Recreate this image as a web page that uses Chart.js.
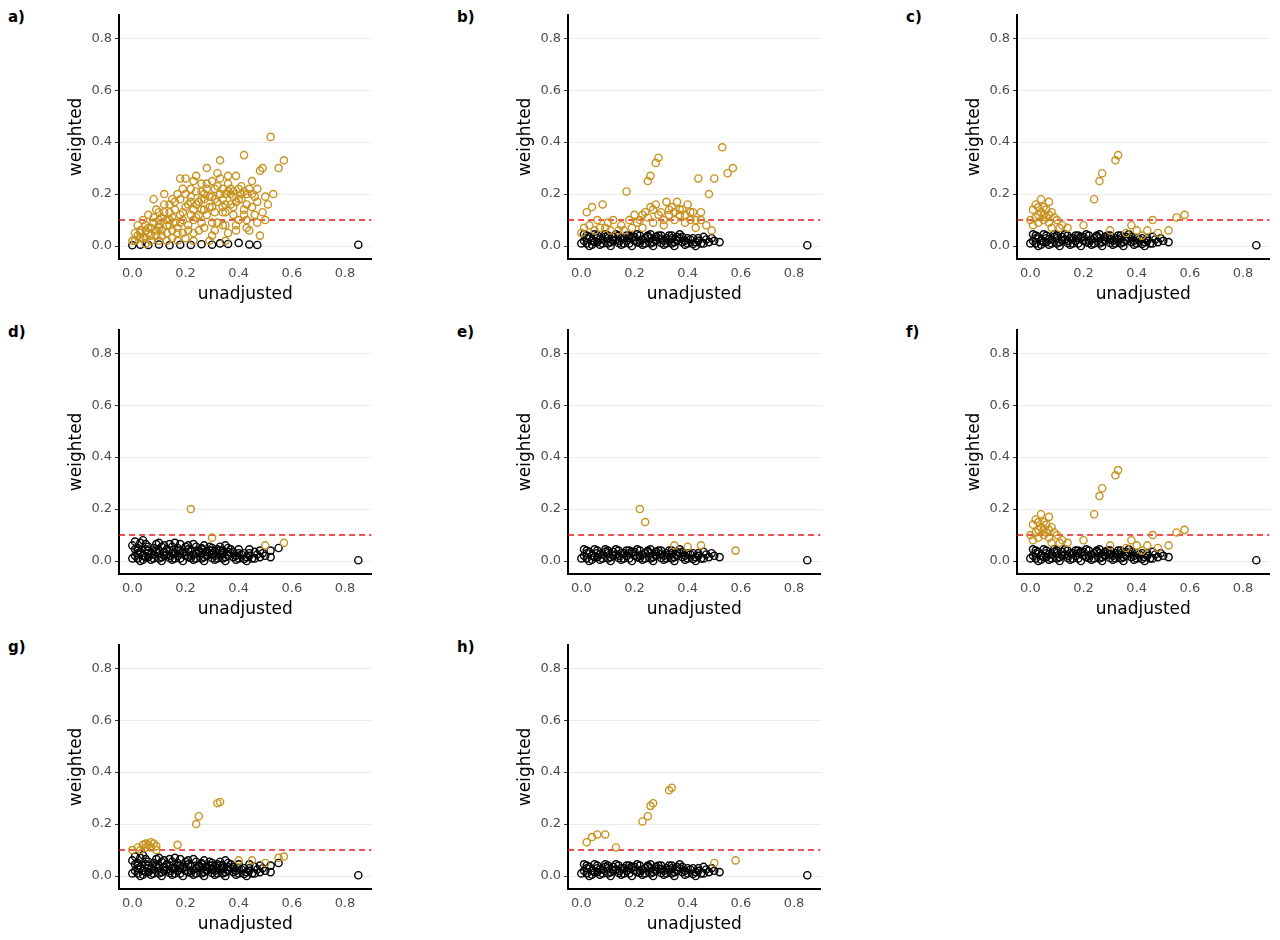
<!DOCTYPE html>
<html><head><meta charset="utf-8">
<script src="https://cdn.jsdelivr.net/npm/chart.js@4"></script>
<style>
body{margin:0;background:#fff;font-family:"DejaVu Sans",sans-serif;}
.panel{position:absolute;width:315px;height:305px;}
.lab{position:absolute;font-weight:bold;font-size:15px;color:#000;}
</style></head><body>
<script>
// panel labels and tick values
const panelNames = ['a)','b)','c)','d)','e)','f)','g)','h)'];
const tickVals = [0, 0.2, 0.4, 0.6, 0.8];
const threshold = 0.1;

// flat [x,y, x,y, ...] lists
const orangeA = [0,.02,.01,.05,.02,.08,.03,.03,.04,.1,.05,.06,.06,.12,.07,.04,.08,.09,.09,.14,.1,.07,.11,.11,.12,.16,.13,.05,.14,.13,.15,.18,.16,.09,.17,.2,.18,.12,.19,.22,.2,.15,.21,.08,.22,.19,.23,.25,.24,.11,.25,.17,.26,.21,.27,.14,.28,.24,.29,.19,.3,.09,.31,.22,.32,.17,.33,.26,.34,.13,.35,.2,.36,.24,.37,.16,.38,.21,.39,.27,.4,.18,.41,.23,.42,.14,.43,.2,.45,.25,.47,.22,.48,.29,.5,.19,.52,.42,.55,.3,.57,.33,.42,.35,.33,.33,.49,.3,.45,.15,.4,.1,.36,.05,.3,.04,.2,.03,.25,.06,.15,.03,.1,.02,.05,.01,.12,.2,.08,.18,.18,.26,.28,.3,.44,.06,.48,.04,.46,.12,.02,.04,.06,.07,.1,.1,.14,.08,.19,.1,.23,.14,.27,.18,.31,.13,.35,.16,.38,.12,.41,.18,.22,.22,.26,.24,.3,.25,.34,.22,.37,.2,.16,.14,.13,.1,.09,.06,.05,.08,.03,.06,.24,.16,.28,.12,.32,.09,.04,.03,.07,.02,.11,.04,.17,.05,.21,.06,.26,.09,.34,.08,.39,.06,.43,.1,.5,.1,.53,.2];
const orangeAFill = [.01,.02,.03,.05,.05,.03,.07,.07,.09,.04,.11,.06,.13,.08,.15,.11,.17,.07,.19,.13,.21,.16,.23,.1,.25,.12,.27,.2,.29,.15,.31,.18,.33,.2,.35,.13,.37,.22,.39,.17,.41,.2,.43,.16,.45,.2,.47,.17,.2,.2,.24,.21,.28,.22,.32,.23,.36,.21,.4,.22,.44,.22,.16,.17,.12,.13,.08,.11,.1,.13,.14,.16,.18,.18,.22,.17,.26,.18,.3,.19,.34,.18,.38,.19,.42,.21,.46,.19,.15,.06,.19,.05,.23,.05,.27,.07,.31,.06,.35,.08,.39,.08,.43,.07,.47,.09,.49,.13,.51,.16,.22,.12,.26,.14,.3,.15,.34,.15,.38,.15,.42,.12,.18,.09,.14,.1,.1,.08,.06,.05,.2,.26,.36,.27,.32,.28,.24,.27,.13,.02,.17,.02,.23,.02,.29,.02,.35,.02];
const blackA = [0,.003,.03,.005,.06,.004,.1,.006,.14,.003,.18,.005,.22,.004,.26,.007,.3,.005,.33,.01,.36,.008,.4,.012,.44,.006,.47,.004,.85,.005];

const orangeB = [0,.05,.02,.13,.04,.15,.08,.16,.17,.21,.03,.08,.06,.1,.1,.09,.12,.1,.15,.08,.18,.1,.2,.12,.22,.1,.24,.13,.25,.25,.26,.27,.26,.15,.28,.32,.29,.34,.28,.16,.3,.13,.32,.17,.34,.15,.36,.17,.38,.14,.4,.16,.42,.13,.44,.26,.45,.1,.48,.2,.5,.26,.53,.38,.55,.28,.57,.3,.47,.08,.35,.1,.31,.08,.23,.07,.14,.06,.07,.07,.01,.07,.05,.06,.19,.07,.27,.09,.33,.12,.39,.09,.43,.07,.49,.06,.41,.1,.37,.12,.21,.09,.25,.11,.29,.12,.33,.14,.37,.14,.41,.13,.45,.13,.27,.14,.31,.1,.35,.13,.39,.12,.43,.1,.23,.12,.16,.06,.11,.06,.09,.07];
const blackLow = [0,.01,.02,.03,.04,.02,.06,.04,.08,.01,.1,.03,.12,.02,.14,.04,.16,.01,.18,.03,.2,.02,.22,.04,.24,.01,.26,.03,.28,.02,.3,.04,.32,.01,.34,.03,.36,.02,.38,.035,.4,.01,.42,.03,.44,.02,.46,.035,.48,.015,.5,.02,.03,.0,.07,.005,.11,.0,.15,.005,.19,.0,.23,.005,.27,.0,.31,.005,.35,.0,.39,.005,.43,.0,.01,.045,.05,.045,.09,.045,.13,.045,.17,.04,.21,.045,.25,.04,.29,.04,.33,.04,.37,.045,.85,.003];
const blackFill = [.01,.02,.03,.035,.05,.015,.07,.025,.09,.035,.11,.015,.13,.025,.15,.03,.17,.02,.19,.035,.21,.015,.23,.025,.25,.035,.27,.015,.29,.03,.31,.02,.33,.025,.35,.015,.37,.03,.39,.02,.41,.025,.43,.015,.45,.01,.47,.025,.49,.03,.52,.015,.02,.01,.04,.005,.06,.015,.08,.025,.1,.01,.12,.035,.14,.012,.16,.03,.18,.01,.2,.035,.22,.012,.24,.03,.26,.01,.28,.035,.3,.012,.32,.03,.34,.01,.36,.035,.38,.015,.4,.03,.42,.008,.44,.03,.46,.01,.02,.04,.06,.03,.1,.04,.14,.02,.18,.04,.22,.02,.26,.045,.3,.025,.34,.04];
const blackHighExtra = [0,.06,.03,.07,.06,.055,.09,.065,.12,.06,.15,.055,.18,.065,.21,.06,.24,.055,.27,.06,.3,.05,.33,.055,.36,.05,.4,.045,.44,.045,.48,.04,.52,.04,.55,.05,.02,.05,.05,.065,.08,.05,.11,.055,.14,.065,.17,.05,.2,.055,.23,.065,.26,.05,.29,.055,.32,.045,.35,.06,.01,.075,.04,.08,.1,.07,.16,.07];

const orangeC = [0,.1,.01,.14,.02,.16,.03,.12,.04,.18,.05,.15,.06,.11,.07,.17,.08,.13,.1,.1,.12,.08,.14,.07,.2,.08,.24,.18,.26,.25,.27,.28,.32,.33,.33,.35,.4,.06,.46,.1,.55,.11,.58,.12,.3,.06,.36,.05,.01,.08,.02,.11,.03,.09,.04,.13,.05,.1,.06,.14,.07,.09,.08,.07,.09,.11,.11,.07,.03,.15,.05,.12,.07,.12,.44,.06,.48,.05,.52,.06,.38,.08,.42,.04];
const orangeD = [.22,.2,.3,.09,.57,.07,.5,.06];
const orangeE = [.22,.2,.24,.15,.35,.06,.45,.06,.4,.055,.58,.04];
const orangeG = [0,.1,.02,.11,.04,.12,.05,.125,.06,.12,.07,.13,.08,.125,.09,.115,.17,.12,.24,.2,.25,.23,.32,.28,.33,.285,.55,.07,.57,.075,.45,.06,.03,.1,.05,.11,.07,.11,.09,.1,.4,.06,.5,.05];
const orangeH = [.02,.13,.04,.15,.06,.16,.09,.16,.13,.11,.23,.21,.25,.23,.26,.27,.27,.28,.33,.33,.34,.34,.58,.06,.5,.05];

function pts(flat){ const o=[]; for(let i=0;i<flat.length;i+=2) o.push({x:flat[i],y:flat[i+1]}); return o; }

const panelOrange = [orangeA.concat(orangeAFill), orangeB, orangeC, orangeD, orangeE, orangeC, orangeG, orangeH];
const lowBand = blackLow.concat(blackFill);
const highBand = lowBand.concat(blackHighExtra);
const panelBlack = [blackA, lowBand, lowBand, highBand, lowBand, lowBand, highBand, lowBand];

const ORANGE = '#c8921e';
for (let p = 0; p < 8; p++) {
  const col = p % 3, row = Math.floor(p / 3);
  const lab = document.createElement('div');
  lab.className = 'lab'; lab.textContent = panelNames[p];
  lab.style.left = (8 + col*449) + 'px'; lab.style.top = (8 + row*315) + 'px';
  document.body.appendChild(lab);
  const div = document.createElement('div');
  div.className = 'panel';
  div.style.left = (62 + col*449) + 'px'; div.style.top = (4 + row*315) + 'px';
  const cv = document.createElement('canvas');
  div.appendChild(cv); document.body.appendChild(div);
  new Chart(cv, {
    type: 'scatter',
    data: { datasets: [
      { data: pts(panelOrange[p]), borderColor: ORANGE, backgroundColor: 'rgba(0,0,0,0)', pointRadius: 3.6, borderWidth: 1.4 },
      { data: pts(panelBlack[p]), borderColor: '#000', backgroundColor: 'rgba(0,0,0,0)', pointRadius: 3.6, borderWidth: 1.4 },
      { type: 'line', data: [{x:-0.05,y:threshold},{x:0.9,y:threshold}], borderColor: '#e41a1c', borderDash: [6,4], borderWidth: 1.5, pointRadius: 0 }
    ]},
    options: {
      responsive: true, maintainAspectRatio: false, animation: false,
      plugins: { legend: {display:false}, tooltip: {enabled:false} },
      layout: { padding: {top: 8, right: 4} },
      scales: {
        x: { type: 'linear', min: -0.05, max: 0.9,
             afterBuildTicks: a => { a.ticks = tickVals.map(v => ({value:v})); },
             grid: { display: false, drawTicks: true, tickLength: 4, tickColor: '#333' },
             border: { color: '#000', width: 2 },
             ticks: { color: '#4d4d4d', font: {size: 13, family: 'DejaVu Sans'}, callback: v => v.toFixed(1) },
             title: { display: true, text: 'unadjusted', color: '#000', font: {size: 17, family: 'DejaVu Sans'}, padding: {top: 0} } },
        y: { min: -0.05, max: 0.89,
             afterBuildTicks: a => { a.ticks = tickVals.map(v => ({value:v})); },
             grid: { color: '#ebebeb', tickLength: 4, tickColor: '#333' },
             border: { color: '#000', width: 2 },
             ticks: { color: '#4d4d4d', font: {size: 13, family: 'DejaVu Sans'}, callback: v => v.toFixed(1) },
             title: { display: true, text: 'weighted', color: '#000', font: {size: 17, family: 'DejaVu Sans'}, padding: {bottom: 2} } }
      }
    }
  });
}
</script>
</body></html>
